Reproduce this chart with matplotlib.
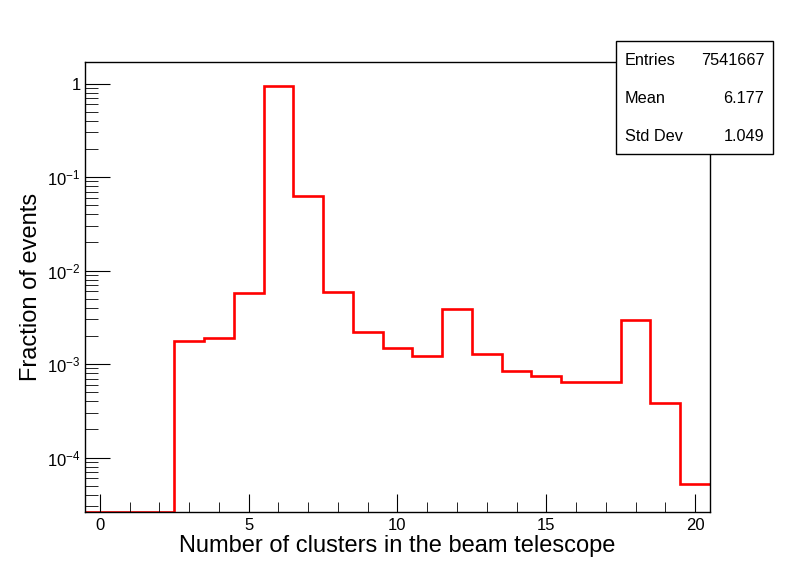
import numpy as np
import matplotlib
matplotlib.use('Agg')
import matplotlib.pyplot as plt
import matplotlib.ticker as mticker
from matplotlib.patches import Rectangle

plt.rcParams['font.family'] = ['Liberation Sans', 'DejaVu Sans']
plt.rcParams['mathtext.fontset'] = 'custom'
plt.rcParams['mathtext.rm'] = 'Liberation Sans'
plt.rcParams['mathtext.it'] = 'Liberation Sans:italic'

# bin contents (fraction of events), one bin per number of clusters 0..20
n_clusters = np.arange(0, 21)
fraction = np.array([0.0, 0.0, 0.0, 1.75e-3, 1.88e-3, 5.7e-3, 0.93, 0.0635,
                     5.86e-3, 2.18e-3, 1.47e-3, 1.22e-3, 3.88e-3, 1.28e-3,
                     8.41e-4, 7.44e-4, 6.41e-4, 6.41e-4, 2.94e-3, 3.82e-4,
                     5.18e-5])

stat_names = ['Entries', 'Mean', 'Std Dev']
stat_values = ['7541667', '6.177', '1.049']

y_min, y_max = 2.62e-5, 1.72

fig = plt.figure(figsize=(7.98, 5.75), dpi=100)
ax = fig.add_axes([0.1065, 0.1096, 0.7832, 0.7834])

edges = np.append(n_clusters - 0.5, n_clusters[-1] + 0.5)
# empty bins are drawn on the lower frame, as ROOT does
ax.stairs(np.maximum(fraction, y_min), edges, color='#ff0000', linewidth=1.9,
          baseline=None)

ax.set_yscale('log')
ax.set_ylim(y_min, y_max)
ax.set_xlim(-0.5, 20.5)

ax.xaxis.set_major_locator(mticker.MultipleLocator(5))
ax.xaxis.set_minor_locator(mticker.MultipleLocator(1))
ax.yaxis.set_major_locator(mticker.LogLocator(base=10))
ax.yaxis.set_minor_locator(mticker.LogLocator(base=10, subs=np.arange(2, 10)))
ax.yaxis.set_minor_formatter(mticker.NullFormatter())
ax.yaxis.set_major_formatter(mticker.FuncFormatter(
    lambda v, p: '1' if abs(v - 1) < 1e-9 else r'$10^{%d}$' % round(np.log10(v))))

ax.tick_params(which='both', direction='in', top=False, right=False, labelsize=12)
ax.tick_params(axis='x', which='major', length=13, pad=4)
ax.tick_params(axis='x', which='minor', length=7)
ax.tick_params(axis='y', which='major', length=18, pad=3)
ax.tick_params(axis='y', which='minor', length=9)
for s in ax.spines.values():
    s.set_linewidth(1.0)

ax.set_xlabel('Number of clusters in the beam telescope', fontsize=17, labelpad=2)
ax.set_ylabel('Fraction of events', fontsize=17, labelpad=2)
ax.yaxis.set_label_coords(-0.069, 0.5)

# statistics box
x0, x1, y0, y1 = 0.772, 0.969, 0.732, 0.9287
fig.patches.append(Rectangle((x0, y0), x1 - x0, y1 - y0, transform=fig.transFigure,
                             facecolor='white', edgecolor='black', linewidth=1.0,
                             zorder=5))
row_y = [0.894, 0.828, 0.763]
for name, val, yy in zip(stat_names, stat_values, row_y):
    fig.text(0.783, yy, name, fontsize=11.7, ha='left', va='center', zorder=6)
    fig.text(0.958, yy, val, fontsize=11.7, ha='right', va='center', zorder=6)

fig.savefig('out.png', dpi=100)
